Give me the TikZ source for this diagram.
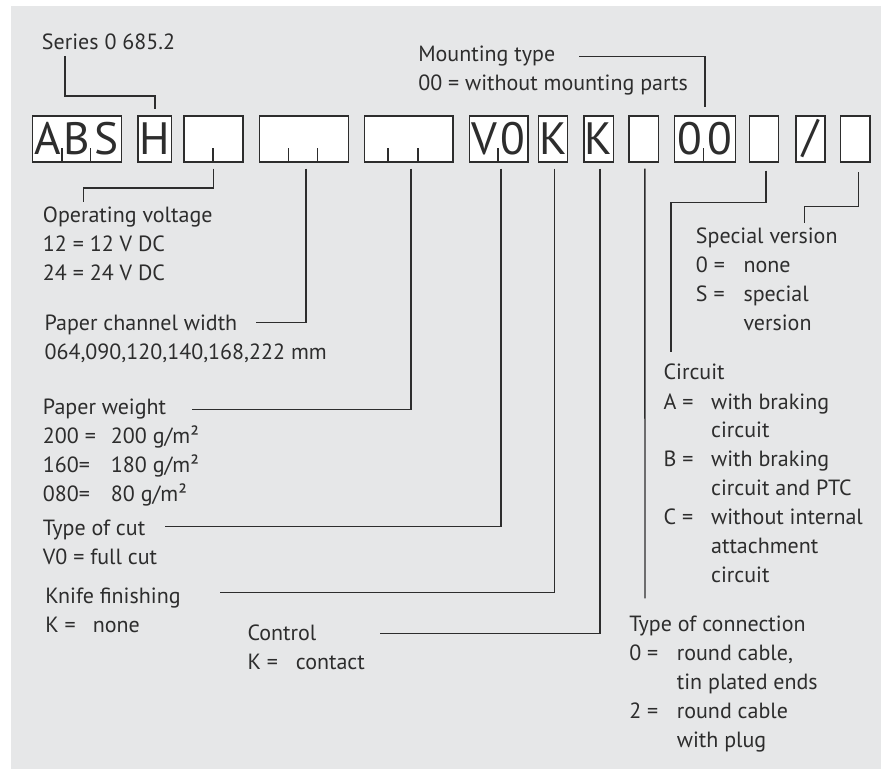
\documentclass[tikz,border=0pt]{standalone}
\usepackage{fontspec}
\setmainfont{PT Sans}
\usetikzlibrary{calc}

\definecolor{panel}{RGB}{230,231,232}
\definecolor{ink}{RGB}{45,45,45}

\newcommand{\dcell}[2][22pt]{\makebox[#1]{#2}}
\newcommand{\eqcol}[2][35.7pt]{\makebox[#1][l]{#2}}

\tikzset{
  lead/.style={draw=ink, line width=1.1pt},
  digit/.style={draw=ink, fill=white, line width=1.1pt, inner sep=0pt,
    minimum height=34.5pt, text=ink, font=\fontsize{34}{34}\selectfont},
  lbl/.style={inner sep=0pt, anchor=base west, text=ink,
    font=\fontsize{16.5}{21.75}\selectfont},
}

\begin{document}
\begin{tikzpicture}[x=0.75pt, y=-0.75pt]
\useasboundingbox (0,0) rectangle (883,770);
\fill[panel] (11,6) rectangle (881,769);

% the type code boxes
\node[digit, minimum width=66.75pt] (abs) at (77.2,139) {\dcell[22.25pt]{A}\dcell[22.25pt]{B}\dcell[22.25pt]{S}};
\node[digit, minimum width=25.3pt] (h) at (154.85,139) {H};
\node[digit, minimum width=44.25pt] (volt) at (213.5,139) {};
\node[digit, minimum width=66.75pt] (chan) at (303.8,139) {};
\node[digit, minimum width=66.5pt] (wgt) at (408.65,139) {};
\node[digit, minimum width=44pt] (cut) at (498.65,139) {\dcell{V}\dcell{0}};
\node[digit, minimum width=22pt] (knife) at (553,139) {K};
\node[digit, minimum width=22pt] (ctrl) at (598.65,139) {K};
\node[digit, minimum width=22pt] (conn) at (643.65,139) {};
\node[digit, minimum width=45.75pt] (mount) at (704.8,139) {\dcell[22.87pt]{0}\dcell[22.87pt]{0}};
\node[digit, minimum width=22pt] (circ) at (764,139) {};
\node[digit, minimum width=21.75pt] (slash) at (810.5,139) {/};
\node[digit, minimum width=22pt] (spec) at (855.35,139) {};

% cell ticks
\foreach \b/\o in {abs/30, abs/58.6, volt/29.7, chan/30, chan/59, wgt/24.4, wgt/54.2, cut/29.4, mount/29.7}
  \draw[lead] ($(\b.south west)+(\o,0)$) -- ++(0,-15);

% labels
\node[lbl] (ser) at (41.7,50) {Series 0 685.2};
\node[lbl] (mnt) at (418,62) {\begin{tabular}[t]{@{}l@{}}Mounting type\\ 00 = without mounting parts\end{tabular}};
\node[lbl] (opv) at (42.7,223) {\begin{tabular}[t]{@{}l@{}}Operating voltage\\ 12 = 12 V DC\\ 24 = 24 V DC\end{tabular}};
\node[lbl] (chl) at (44.3,330) {\begin{tabular}[t]{@{}l@{}}Paper channel width\\ 064,090,120,140,168,222 mm\end{tabular}};
\node[lbl] (wgl) at (42.7,415) {\begin{tabular}[t]{@{}l@{}}Paper weight\\ \eqcol[51pt]{200 =}200 g/m²\\ \eqcol[51pt]{160=}180 g/m²\\ \eqcol[51pt]{080=}80 g/m²\end{tabular}};
\node[lbl] (cutl) at (42.7,535) {\begin{tabular}[t]{@{}l@{}}Type of cut\\ V0 = full cut\end{tabular}};
\node[lbl] (knl) at (45,603.3) {\begin{tabular}[t]{@{}l@{}}Knife finishing\\ \eqcol{K =}none\end{tabular}};
\node[lbl] (ctl) at (247.3,640) {\begin{tabular}[t]{@{}l@{}}Control\\ \eqcol[36.2pt]{K =}contact\end{tabular}};
\node[lbl] (cnl) at (629,631.5) {\begin{tabular}[t]{@{}l@{}}Type of connection\\ \eqcol{0 =}round cable,\\ \eqcol{}tin plated ends\\ \eqcol{2 =}round cable\\ \eqcol{}with plug\end{tabular}};
\node[lbl] (spl) at (695.7,244) {\begin{tabular}[t]{@{}l@{}}Special version\\ \eqcol{0 =}none\\ \eqcol{S =}special\\ \eqcol{}version\end{tabular}};
\node[lbl] (cil) at (663.3,380) {\begin{tabular}[t]{@{}l@{}}Circuit\\ \eqcol{A =}with braking\\ \eqcol{}circuit\\ \eqcol{B =}with braking\\ \eqcol{}circuit and PTC\\ \eqcol{C =}without internal\\ \eqcol{}attachment\\ \eqcol{}circuit\end{tabular}};

% leaders above the boxes
\draw[lead] ($(ser.base west)+(23.3,6)$) |- ($(h.north)+(0,-19.3)$) -- ($(h.north)+(0,-6)$);
\draw[lead] ($(mnt.base west)+(161,-5.3)$) -| ($(mount.north)+(0,-8.7)$);

% leaders below the boxes
\draw[lead] ($(volt.south)+(0.2,6)$) -- ++(0,19.3) -| ($(opv.base west)+(40.6,-21.3)$);
\draw[lead] ($(chan.south)+(2.2,6)$) |- ($(chl.base west)+(211.7,-7.3)$);
\draw[lead] ($(wgt.south)+(2.35,6)$) |- ($(wgl.base west)+(149.6,-5.7)$);
\draw[lead] ($(cut.south)+(2.5,6)$) |- ($(cutl.base west)+(122.3,-8.3)$);
\draw[lead] ($(knife.south)+(1.3,6)$) |- ($(knl.base west)+(175,-11)$);
\draw[lead] ($(ctrl.south)+(1.3,6)$) |- ($(ctl.base west)+(132.7,-6.3)$);
\draw[lead] ($(conn.south)+(1.3,6)$) -- ($(cnl.base west)+(16,-33.2)$);
\draw[lead] ($(circ.south)+(2,8)$) -- ++(0,31.7) -| ($(cil.base west)+(7.7,-27.7)$);
\draw[lead] ($(spec.south)+(3,9.7)$) -- ++(0,34) -| ($(spl.base west)+(108.6,-21.3)$);
\end{tikzpicture}
\end{document}
